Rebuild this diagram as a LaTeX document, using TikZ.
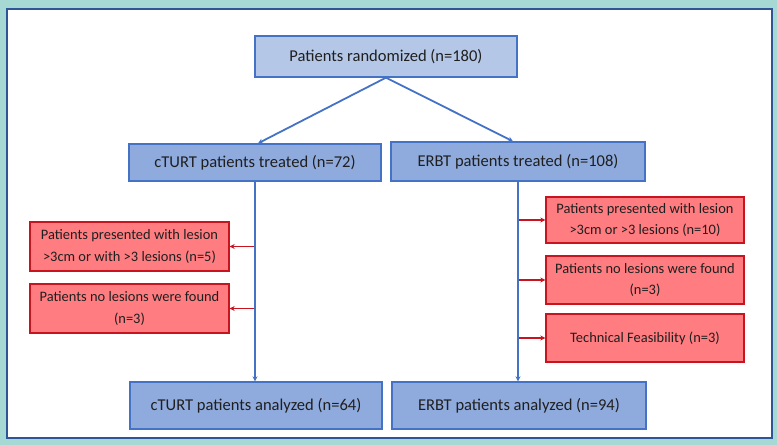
\documentclass[tikz,border=0pt]{standalone}
\usepackage{fontspec}
\setmainfont{Carlito}
\usetikzlibrary{arrows.meta}
\definecolor{pageBg}{RGB}{166,216,212}
\definecolor{frameEdge}{RGB}{47,85,151}
\definecolor{topFill}{RGB}{180,199,231}
\definecolor{armFill}{RGB}{143,170,220}
\definecolor{armEdge}{RGB}{68,114,196}
\definecolor{exclFill}{RGB}{255,124,128}
\definecolor{exclEdge}{RGB}{200,20,30}
\tikzset{
  armbox/.style={draw=armEdge,fill=armFill,line width=1.3bp,inner sep=0pt,
    text=black!88,font=\fontsize{16.6}{20}\selectfont},
  exclbox/.style={draw=exclEdge,fill=exclFill,line width=1.3bp,inner sep=0pt,
    align=center,text=black!88,font=\fontsize{14.5}{22}\selectfont,
    minimum width=199bp},
  flow/.style={draw=armEdge,line width=1.8bp,-{Stealth[length=5bp,width=5bp]}},
  drop/.style={draw=exclEdge,line width=1.8bp,-{Stealth[length=5bp,width=5bp]}},
}

\begin{document}
\begin{tikzpicture}[x=1bp,y=-1bp]
  % --- Fond et cadre ---
  \fill[pageBg] (0,0) rectangle (777,445);
  \draw[frameEdge,fill=white,line width=2bp] (7,9) rectangle (772,438);
  % --- Boites principales ---
  \node[armbox,fill=topFill,minimum width=262bp,minimum height=41bp] (rand) at (386,56.5) {Patients randomized (n=180)};
  \node[armbox,minimum width=252bp,minimum height=37bp] (ctreat) at (255,162.5) {cTURT patients treated (n=72)};
  \node[armbox,minimum width=254bp,minimum height=39bp] (etreat) at (518,161.5) {ERBT patients treated (n=108)};
  \node[armbox,minimum width=252bp,minimum height=47bp] (cana) at (256,405.5) {cTURT patients analyzed (n=64)};
  \node[armbox,minimum width=254bp,minimum height=47bp] (eana) at (519,405.5) {ERBT patients analyzed (n=94)};
  % --- Exclusions ---
  \node[exclbox,minimum height=49bp] (cx1) at (129.5,246.5) {Patients presented with lesion\\>3cm or with >3 lesions (n=5)};
  \node[exclbox,minimum height=49bp] (cx2) at (129.5,308.5) {Patients no lesions were found\\(n=3)};
  \node[exclbox,minimum width=198bp,minimum height=46bp] (ex1) at (645,220) {Patients presented with lesion\\>3cm or >3 lesions (n=10)};
  \node[exclbox,minimum width=198bp,minimum height=48bp] (ex2) at (645,280) {Patients no lesions were found\\(n=3)};
  \node[exclbox,minimum width=198bp,minimum height=48bp] (ex3) at (645,338) {Technical Feasibility (n=3)};
  % --- Fleches ---
  \foreach \b in {cx1,cx2}
    \draw[drop] (ctreat.south |- \b.east) -- (\b.east);
  \foreach \b in {ex1,ex2,ex3}
    \draw[drop] (etreat.south |- \b.west) -- (\b.west);
  \draw[flow] (rand.south) -- ([xshift=3bp]ctreat.north);
  \draw[flow] (rand.south) -- ([xshift=-5bp]etreat.north);
  \draw[flow] (ctreat.south) -- (ctreat.south |- cana.north);
  \draw[flow] (etreat.south) -- (etreat.south |- eana.north);
\end{tikzpicture}
\end{document}
